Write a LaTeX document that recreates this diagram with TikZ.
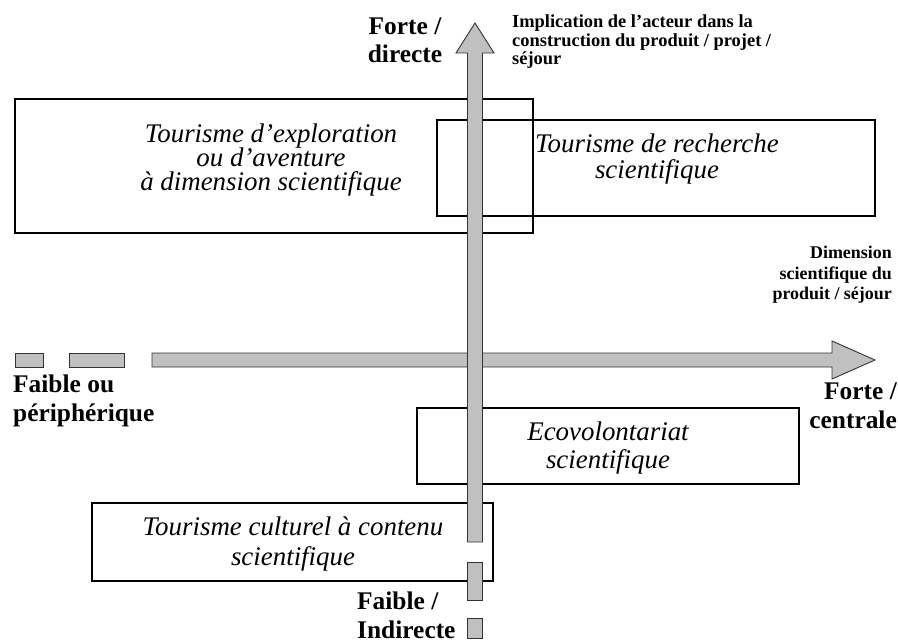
\documentclass[tikz,border=0pt]{standalone}
\usepackage{fontspec}
\setmainfont{Liberation Serif}
\usepackage{tikz}
\usetikzlibrary{positioning}
\definecolor{axisgray}{RGB}{192,192,192}
\tikzstyle{axis}=[
  fill=axisgray, draw=black!80, line width=0.9bp
]
\tikzstyle{zone}=[
  draw, line width=1.3bp, inner sep=0pt
]
\tikzstyle{zonetext}=[
  font=\itshape\fontsize{27}{25}\selectfont, align=center, inner sep=0pt
]
\tikzstyle{pole}=[
  font=\bfseries\fontsize{25.5}{28.5}\selectfont, inner sep=0pt
]
\tikzstyle{axislabel}=[
  font=\bfseries\fontsize{18.5}{19}\selectfont, inner sep=0pt
]

\begin{document}
\begin{tikzpicture}[x=1bp,y=-1bp]
    \useasboundingbox (0,0) rectangle (898,642);
    % zones
    \node (exploframe) at (274,166) [zone, minimum width=518bp, minimum height=134bp] {};
    \node (rechframe) at (656,168) [zone, minimum width=438bp, minimum height=96bp] {};
    \node (ecoframe) at (608,446) [zone, minimum width=382bp, minimum height=76bp] {};
    \node (cultframe) at (292.5,542) [zone, minimum width=401bp, minimum height=78bp] {};
    \node (explo) at (271,160) [zonetext] {Tourisme d'exploration\\[-0.5bp] ou d'aventure\\[-0.5bp] à dimension scientifique};
    \node (rech) at (657,159) [zonetext] {Tourisme de recherche\\[1bp] scientifique};
    \node (eco) at (608,448) [zonetext] {Ecovolontariat\\[3bp] scientifique};
    \node (cult) at (293,544) [zonetext] {Tourisme culturel à contenu\\[5bp] scientifique};
    % axes
    \filldraw [axis] (15,353) rectangle (43,367);
    \filldraw [axis] (69,353) rectangle (124,367);
    \filldraw [axis] (152,353) -- (832,353) -- (832,341) -- (875,360)
      -- (832,379) -- (832,367) -- (152,367) -- cycle;
    \filldraw [axis] (467.5,542) -- (467.5,53) -- (456,53) -- (475,23)
      -- (494,53) -- (482.5,53) -- (482.5,542) -- cycle;
    \filldraw [axis] (467.5,562) rectangle (482.5,600);
    \filldraw [axis] (467.5,618) rectangle (482.5,638);
    % labels
    \node (forteV) at (405,40) [pole, align=center] {Forte /\\ directe};
    \node (faibleV) at (357,592) [pole, align=left, anchor=north west] {Faible /\\ Indirecte};
    \node (faibleH) at (13,375) [pole, align=left, anchor=north west] {Faible ou\\ périphérique};
    \node (forteH) at (897,383) [pole, align=right, anchor=north east] {Forte /\\ centrale};
    \node (implic) at (512,15) [axislabel, align=left, anchor=north west] {Implication de l'acteur dans la\\[-0.5bp] construction du produit / projet /\\[-0.5bp] séjour};
    \node (dimens) at (892,246) [axislabel, font=\bfseries\fontsize{18}{19}\selectfont, align=right, anchor=north east] {Dimension\\[1.5bp] scientifique du\\[1.5bp] produit / séjour};
\end{tikzpicture}
\end{document}
